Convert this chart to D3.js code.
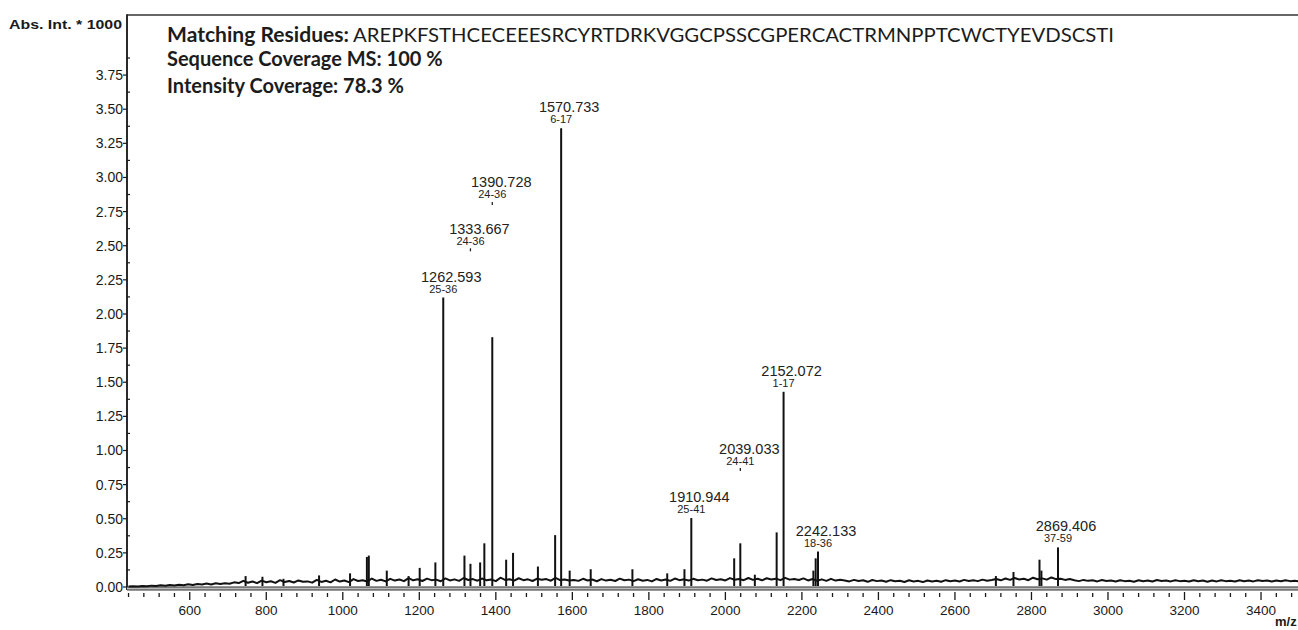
<!DOCTYPE html>
<html><head><meta charset="utf-8">
<script src="https://cdn.jsdelivr.net/npm/d3@7"></script>
<style>
html,body{margin:0;padding:0;background:#fff;}
svg{display:block;}
</style></head>
<body>
<svg id="chart" width="1298" height="630"></svg>
<script>
// ---------------- DATA ----------------
const headerLines = [
  ["Matching Residues:", "AREPKFSTHCECEEESRCYRTDRKVGGCPSSCGPERCACTRMNPPTCWCTYEVDSCSTI"],
  ["Sequence Coverage MS: 100 %", ""],
  ["Intensity Coverage: 78.3 %", ""]
];
const yAxisTitle = "Abs. Int. * 1000";
const xAxisTitle = "m/z";
const yTickValues = [0, 0.25, 0.5, 0.75, 1, 1.25, 1.5, 1.75, 2, 2.25, 2.5, 2.75, 3, 3.25, 3.5, 3.75];
const xTickValues = [600, 800, 1000, 1200, 1400, 1600, 1800, 2000, 2200, 2400, 2600, 2800, 3000, 3200, 3400];

// labelled peaks (m/z, intensity*1000, residue range)
const labelMz    = [1262.593, 1390.728, 1570.733, 1910.944, 2152.072, 2242.133, 2869.406];
const labelInt   = [2.12, 1.83, 3.36, 0.505, 1.43, 0.26, 0.29];
const labelRange = ["25-36", "24-36", "6-17", "25-41", "1-17", "18-36", "37-59"];
// annotations whose label floats above the spectrum (m/z, marker level, range)
const floatMz    = [1333.667, 1390.728, 2039.033];
const floatLevel = [2.47, 2.81, 0.86];
const floatRange = ["24-36", "24-36", "24-41"];

// other (unlabelled) spikes
const minorMz  = [746, 790, 845, 938, 1019, 1063, 1068, 1115, 1172, 1201, 1242, 1318, 1333.7, 1359, 1370, 1427, 1445, 1510, 1555, 1593, 1648, 1757, 1848, 1893, 2023, 2039, 2077, 2134, 2230, 2236, 2707, 2753, 2821, 2826];
const minorInt = [0.08, 0.075, 0.06, 0.085, 0.10, 0.22, 0.23, 0.12, 0.08, 0.14, 0.18, 0.23, 0.17, 0.18, 0.32, 0.20, 0.25, 0.15, 0.38, 0.12, 0.13, 0.13, 0.10, 0.13, 0.21, 0.32, 0.09, 0.40, 0.12, 0.21, 0.08, 0.11, 0.20, 0.12];

// baseline noise level, sampled every 12 m/z starting at 440
const baselineStart = 440, baselineStep = 12;
const baselineInt = [
 0.004,0.006,0.003,0.008,0.005,0.010,0.007,0.012,0.009,0.014,0.011,
 0.016,0.013,0.020,0.015,0.022,0.018,0.025,0.019,0.027,0.022,0.028,
 0.024,0.034,0.029,0.045,0.031,0.040,0.028,0.047,0.035,0.042,0.030,0.050,0.036,0.044,0.033,0.048,0.038,0.041,0.032,0.052,0.037,0.046,0.034,0.055,0.040,
 0.048,0.036,0.058,0.044,0.050,0.040,0.062,0.045,0.053,0.041,0.060,0.047,0.055,0.043,0.065,0.049,0.057,0.044,0.061,0.050,0.054,0.042,0.063,0.048,0.056,0.045,0.066,0.051,0.058,0.046,0.062,0.049,0.055,0.043,0.068,0.052,0.057,0.047,0.064,0.050,0.056,0.044,0.061,0.053,0.058,0.046,0.067,0.051,0.055,0.048,
 0.052,0.045,0.060,0.048,0.055,0.042,0.058,0.047,0.053,0.044,0.061,0.049,0.054,0.043,0.057,0.046,0.052,0.041,0.059,0.048,0.055,0.045,0.062,0.050,0.056,0.047,0.060,0.049,0.054,0.046,0.063,0.051,0.057,0.048,0.065,0.053,0.058,0.050,0.066,0.052,0.060,0.049,0.064,0.055,0.061,0.050,0.067,0.054,0.059,0.051,0.063,0.048,0.058,0.046,0.056,0.045,0.060,0.047,0.053,
 0.048,0.041,0.052,0.044,0.049,0.038,0.051,0.043,0.047,0.039,0.050,0.042,0.046,0.037,0.049,0.041,0.045,0.036,0.048,0.040,0.046,0.038,0.050,0.042,0.047,0.040,0.052,0.044,0.049,0.043,0.054,0.046,0.051,
 0.058,0.049,0.062,0.052,0.066,0.055,0.060,0.050,0.068,0.057,0.063,0.054,0.070,0.058,0.061,0.052,0.059,
 0.050,0.043,0.052,0.045,0.049,0.041,0.051,0.044,0.047,0.040,0.050,0.043,0.046,0.039,0.049,0.042,0.048,0.040,0.051,0.044,0.047,0.041,0.050,0.043,0.046,0.040,0.049,0.042,0.047,0.039,0.048,0.041,0.050,0.043,0.046,0.040,0.049,0.042,0.047,0.041,0.050,0.044,0.048,0.040,0.047,0.042,0.049,0.043,0.046,0.041
];

// ---------------- DRAW ----------------
const svg = d3.select("#chart");
const pL = 127, pT = 15, pB = 587;
const x = d3.scaleLinear().domain([436, 3500]).range([pL, pL + 3064 * 0.3826]);
const y = d3.scaleLinear().domain([0, 4.19]).range([pB, pT]);
const ink = "#1a1a1a";
const axisFont = "'Liberation Sans', Arial, sans-serif";

// frame: top border, left axis, bottom double axis
svg.append("line").attr("x1", pL).attr("x2", 1298).attr("y1", pT).attr("y2", pT)
  .attr("stroke", "#333").attr("stroke-width", 1.6);
svg.append("line").attr("x1", pL).attr("x2", pL).attr("y1", pT - 0.8).attr("y2", pB + 3)
  .attr("stroke", "#2a2a2a").attr("stroke-width", 2);
svg.append("rect").attr("x", pL).attr("y", pB).attr("width", 1298 - pL).attr("height", 3)
  .attr("fill", "#bbb");
[pB, pB + 3].forEach(yy => {
  svg.append("line").attr("x1", pL).attr("x2", 1298).attr("y1", yy).attr("y2", yy)
    .attr("stroke", "#333").attr("stroke-width", 1.1);
});

// y axis ticks & labels
const yMinor = yTickValues.map(v => v + 0.125).filter(v => v < 4.1);
svg.append("g").selectAll("line").data(yMinor).join("line")
  .attr("x1", pL).attr("x2", pL + 3).attr("y1", d => y(d)).attr("y2", d => y(d))
  .attr("stroke", ink).attr("stroke-width", 1.2);
svg.append("g").selectAll("line").data(yTickValues).join("line")
  .attr("x1", pL - 4).attr("x2", pL).attr("y1", d => y(d)).attr("y2", d => y(d))
  .attr("stroke", ink).attr("stroke-width", 1.2);
svg.append("g").selectAll("text").data(yTickValues).join("text")
  .attr("x", pL - 4).attr("y", d => y(d) + 5).attr("text-anchor", "end")
  .attr("font-family", axisFont).attr("font-size", 14).attr("fill", ink)
  .text(d => d.toFixed(2));

// x axis ticks & labels
const xMinor = d3.range(440, 3500, 40).filter(v => (v - 600) % 200 !== 0);
svg.append("g").selectAll("line").data(xMinor).join("line")
  .attr("x1", d => x(d)).attr("x2", d => x(d)).attr("y1", 593).attr("y2", 597)
  .attr("stroke", ink).attr("stroke-width", 1.3);
svg.append("g").selectAll("line").data(xTickValues).join("line")
  .attr("x1", d => x(d)).attr("x2", d => x(d)).attr("y1", 592).attr("y2", 600)
  .attr("stroke", ink).attr("stroke-width", 1.3);
svg.append("g").selectAll("text").data(xTickValues).join("text")
  .attr("x", d => x(d)).attr("y", 615).attr("text-anchor", "middle")
  .attr("font-family", axisFont).attr("font-size", 13.5).attr("fill", ink)
  .text(d => d);

// axis titles
svg.append("text").attr("x", 9).attr("y", 29).attr("font-family", axisFont)
  .attr("font-weight", "bold").attr("font-size", 12.5).attr("fill", ink)
  .attr("textLength", 113).attr("lengthAdjust", "spacingAndGlyphs").text(yAxisTitle);
svg.append("text").attr("x", 1275).attr("y", 626).attr("font-family", axisFont)
  .attr("font-weight", "bold").attr("font-size", 13).attr("fill", ink).text(xAxisTitle);

// spectrum baseline
const baseData = baselineInt.map((v, i) => [baselineStart + i * baselineStep, v]);
const line = d3.line().x(d => x(d[0])).y(d => y(d[1]));
svg.append("path").datum(baseData).attr("d", line).attr("fill", "none")
  .attr("stroke", "#111").attr("stroke-width", 2).attr("stroke-linejoin", "round");

// spikes
const spikes = minorMz.map((m, i) => [m, minorInt[i]]).concat(labelMz.map((m, i) => [m, labelInt[i]]));
svg.append("g").selectAll("line").data(spikes).join("line")
  .attr("x1", d => x(d[0])).attr("x2", d => x(d[0])).attr("y1", y(0) - 1).attr("y2", d => y(d[1]))
  .attr("stroke", "#111").attr("stroke-width", 2);

// peak labels (on labelled peaks, except those that float)
const labelFont = "'Liberation Sans', Arial, sans-serif";
labelMz.forEach((m, i) => {
  if (floatMz.includes(m)) return;
  const px = x(m), py = y(labelInt[i]);
  svg.append("text").attr("x", px + 8).attr("y", py - 16).attr("text-anchor", "middle")
    .attr("font-family", labelFont).attr("font-size", 14.5).attr("fill", "#222").text(m.toFixed(3));
  svg.append("text").attr("x", px).attr("y", py - 5).attr("text-anchor", "middle")
    .attr("font-family", labelFont).attr("font-size", 11).attr("fill", "#222").text(labelRange[i]);
});
floatMz.forEach((m, i) => {
  const px = x(m), py = y(floatLevel[i]);
  svg.append("line").attr("x1", px).attr("x2", px).attr("y1", py - 1.5).attr("y2", py + 1.5)
    .attr("stroke", "#222").attr("stroke-width", 1.3);
  svg.append("text").attr("x", px + 9).attr("y", py - 16).attr("text-anchor", "middle")
    .attr("font-family", labelFont).attr("font-size", 14.5).attr("fill", "#222").text(m.toFixed(3));
  svg.append("text").attr("x", px).attr("y", py - 5).attr("text-anchor", "middle")
    .attr("font-family", labelFont).attr("font-size", 11).attr("fill", "#222").text(floatRange[i]);
});

// header text
const headFont = "Lato, 'Open Sans', sans-serif";
const headBase = [42, 66, 93];
headerLines.forEach((ln, i) => {
  const t = svg.append("text").attr("x", 167).attr("y", headBase[i]).attr("font-family", headFont)
    .attr("font-weight", "bold").attr("font-size", 20).attr("fill", "#1c1c1c").text(ln[0]);
  if (ln[1]) {
    t.attr("textLength", 182).attr("lengthAdjust", "spacingAndGlyphs");
    svg.append("text").attr("x", 353).attr("y", headBase[i]).attr("font-family", headFont)
      .attr("font-size", 20).attr("fill", "#1c1c1c")
      .attr("textLength", 1114 - 353).attr("lengthAdjust", "spacingAndGlyphs").text(ln[1]);
  }
});
</script>
</body></html>
